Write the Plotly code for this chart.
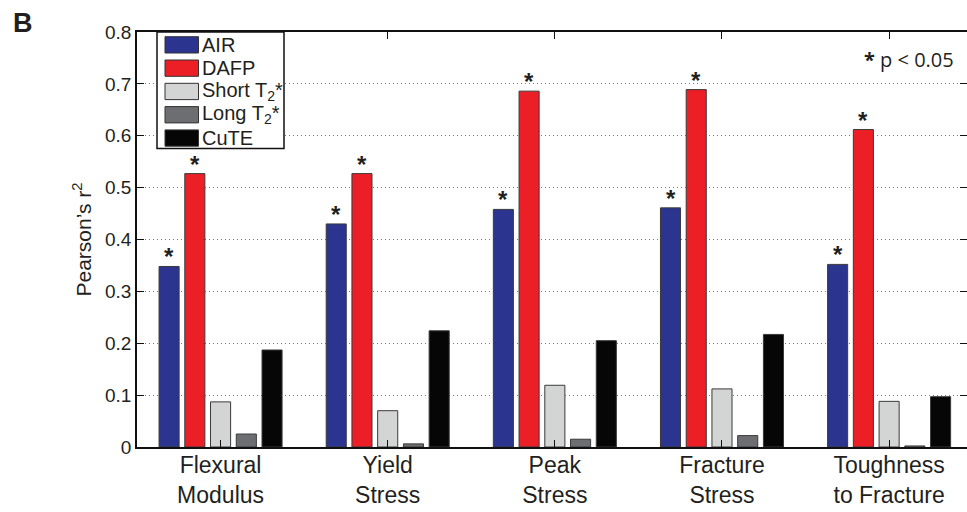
import plotly.graph_objects as go

# Correlation (Pearson's r^2) of each MRI measure with bone mechanical properties
categories = ["Flexural<br>Modulus", "Yield<br>Stress", "Peak<br>Stress",
              "Fracture<br>Stress", "Toughness<br>to Fracture"]
series_names = ["AIR", "DAFP", "Short T<sub>2</sub>*", "Long T<sub>2</sub>*", "CuTE"]
air = [0.348, 0.430, 0.458, 0.461, 0.352]
dafp = [0.527, 0.527, 0.686, 0.689, 0.612]
short_t2 = [0.087, 0.070, 0.119, 0.112, 0.088]
long_t2 = [0.025, 0.006, 0.015, 0.022, 0.002]
cute = [0.187, 0.224, 0.205, 0.217, 0.097]
# significance flags (p < 0.05) per series
sig_air = [True, True, True, True, True]
sig_dafp = [True, True, True, True, True]
y_ticks = [0, 0.1, 0.2, 0.3, 0.4, 0.5, 0.6, 0.7, 0.8]

series_values = [air, dafp, short_t2, long_t2, cute]
colors = ["#2b358f", "#ec1f27", "#d3d5d4", "#6d6e71", "#060606"]
text_color = "#231f20"
font_family = "Liberation Sans, Arial, Helvetica, sans-serif"

BARGAP = 0.23
BARGROUPGAP = 0.22

fig = go.Figure()
for name, vals, col in zip(series_names, series_values, colors):
    fig.add_trace(go.Bar(
        x=categories, y=vals, name=name,
        marker=dict(color=col, line=dict(color="#3a3a3a", width=1)),
        showlegend=False,
    ))

# asterisks above significant bars
n_series = len(series_values)
slot = (1 - BARGAP) / n_series
annotations = []
for s_idx, (vals, flags) in enumerate([(air, sig_air), (dafp, sig_dafp)]):
    offset = (s_idx - (n_series - 1) / 2) * slot
    for i, (v, f) in enumerate(zip(vals, flags)):
        if f:
            annotations.append(dict(
                x=i + offset, y=v, xref="x", yref="y", text="<b>*</b>",
                showarrow=False, yanchor="bottom", yshift=-6,
                font=dict(family=font_family, size=24, color=text_color),
            ))

# custom legend box in the upper-left corner
plot_left, plot_right, plot_top, plot_bottom = 137, 967, 32, 447
pw, ph = plot_right - plot_left, plot_bottom - plot_top


def px_x(px):
    return (px - plot_left) / pw


def px_y(py):
    return (plot_bottom - py) / ph


shapes = [dict(type="rect", xref="paper", yref="paper", layer="above",
               x0=px_x(157), x1=px_x(284), y0=px_y(148.5), y1=px_y(32),
               fillcolor="white", line=dict(color="#111111", width=1.5))]
row_tops = [36.7, 60, 83.3, 106.6, 129.9]
for name, col, top in zip(series_names, colors, row_tops):
    shapes.append(dict(type="rect", xref="paper", yref="paper", layer="above",
                       x0=px_x(165), x1=px_x(198.5), y0=px_y(top + 16.3), y1=px_y(top),
                       fillcolor=col, line=dict(color="#333333", width=1)))
    annotations.append(dict(x=px_x(200), y=px_y(top + 8.3), xref="paper", yref="paper",
                            text=name, showarrow=False, xanchor="left", yanchor="middle",
                            font=dict(family=font_family, size=20, color=text_color)))

annotations.append(dict(x=px_x(956), y=px_y(60), xref="paper", yref="paper",
                        text="<b>*</b> p < 0.05", showarrow=False, xanchor="right",
                        yanchor="middle",
                        font=dict(family="Open Sans, Noto Sans, sans-serif", size=20,
                                  color=text_color)))
# panel label
annotations.append(dict(x=px_x(11), y=px_y(6), xref="paper", yref="paper",
                        text="<b>B</b>", showarrow=False, xanchor="left", yanchor="top",
                        font=dict(family=font_family, size=27, color=text_color)))

fig.update_layout(
    width=967, height=512, autosize=False,
    margin=dict(l=plot_left, r=0, t=plot_top, b=512 - plot_bottom, pad=0,
                autoexpand=False),
    paper_bgcolor="white", plot_bgcolor="white",
    barmode="group", bargap=BARGAP, bargroupgap=BARGROUPGAP,
    font=dict(family=font_family, color=text_color),
    annotations=annotations, shapes=shapes,
    xaxis=dict(
        range=[-0.5, 4.466], showline=True, linecolor="#111111", linewidth=1.5,
        mirror="ticks", ticks="inside", ticklen=7, tickcolor="#111111",
        tickfont=dict(size=23, color=text_color), ticklabelstandoff=-3,
        showgrid=False, fixedrange=True, automargin=False,
    ),
    yaxis=dict(
        range=[0, 0.8], tickvals=y_ticks, ticktext=[f"{v:g}" for v in y_ticks],
        showline=True, linecolor="#111111", linewidth=1.5, mirror=False,
        ticks="inside", ticklen=7, tickcolor="#111111",
        tickfont=dict(size=19, color=text_color), automargin=False,
        showgrid=True, gridcolor="#7a7a7a", griddash="1px,3px", gridwidth=1,
        zeroline=False, title=dict(text="Pearson\u2019s r<sup>2</sup>",
                                   font=dict(size=21, color=text_color), standoff=8),
    ),
    yaxis2=dict(
        overlaying="y", side="right", matches="y", range=[0, 0.8], tickvals=y_ticks,
        showticklabels=False, ticks="inside", ticklen=7, tickcolor="#111111",
        showline=False, showgrid=False, zeroline=False, automargin=False,
    ),
)
# invisible trace so the right-hand tick axis is drawn
fig.add_trace(go.Scatter(x=[categories[0]], y=[0], yaxis="y2", mode="markers",
                         marker=dict(opacity=0), showlegend=False, hoverinfo="skip"))

fig.write_html("out.html")
